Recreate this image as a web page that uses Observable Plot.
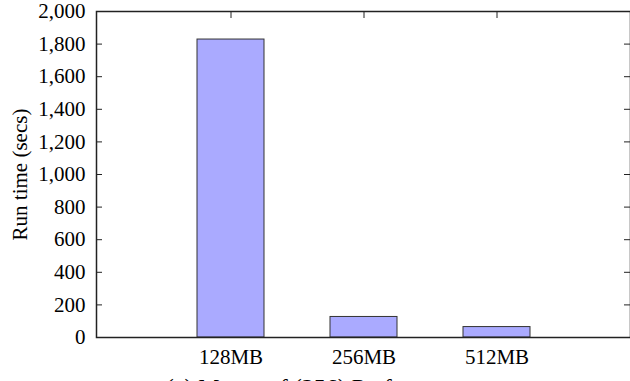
<!DOCTYPE html>
<html>
<head>
<meta charset="utf-8">
<script src="https://cdn.jsdelivr.net/npm/d3@7"></script>
<script src="https://cdn.jsdelivr.net/npm/@observablehq/plot@0.6"></script>
<style>
  html, body { margin: 0; padding: 0; background: #fff; overflow: hidden; }
  #chart { width: 630px; height: 374px; }
  .caption { width: 630px; text-align: center; font-family: "Liberation Serif", serif; font-size: 24px; color: #000; line-height: 1.15; margin-left: 5px; }
  svg text { font-family: "Liberation Serif", serif; }
</style>
</head>
<body>
<div id="chart"></div>
<div class="caption">(c) Memperf (256) Performance</div>
<script>
const categories = ["128MB", "256MB", "512MB"];
const runTimes = [1828, 126, 64];
const yTicks = [0, 200, 400, 600, 800, 1000, 1200, 1400, 1600, 1800, 2000];
const yLabel = "Run time (secs)";

const data = categories.map((c, i) => ({category: c, value: runTimes[i]}));

const W = 630, H = 374;
const mL = 96, mT = 11, mB = 37;
const plotRight = 631;
const frameH = H - mT - mB;
const frameW = plotRight - mL;
const tl = 7;
const fs = 21;

const chart = Plot.plot({
  width: W,
  height: H,
  marginLeft: mL,
  marginTop: mT,
  marginBottom: mB,
  marginRight: 0,
  style: {fontFamily: "'Liberation Serif', serif", fontSize: fs + "px", color: "#000", background: "#fff", overflow: "visible"},
  x: {domain: categories, range: [mL, plotRight], paddingInner: 0.5, paddingOuter: 0.75, label: null},
  y: {domain: [0, 2000], range: [H - mB, mT], label: null},
  marks: [
    Plot.barY(data, {x: "category", y: "value", fill: "#aaaaff", stroke: "#333", strokeWidth: 1}),
    Plot.ruleY(yTicks.slice(1, -1), {y: d => d, stroke: "#222", strokeWidth: 1, insetRight: frameW - tl}),
    Plot.ruleY(yTicks.slice(1, -1), {y: d => d, stroke: "#222", strokeWidth: 1, insetLeft: frameW - tl}),
    Plot.tickX(categories, {x: d => d, stroke: "#222", strokeWidth: 1, insetBottom: frameH - tl}),
    Plot.axisY({ticks: yTicks, tickSize: 0, tickPadding: 11, tickFormat: d3.format(","), fontSize: fs, label: yLabel, labelAnchor: "center", labelArrow: "none", labelOffset: 84}),
    Plot.axisX({tickSize: 0, tickPadding: 12, fontSize: fs, label: null}),
    Plot.frame({stroke: "#222", strokeWidth: 1.5})
  ]
});
document.getElementById("chart").appendChild(chart);
</script>
</body>
</html>
